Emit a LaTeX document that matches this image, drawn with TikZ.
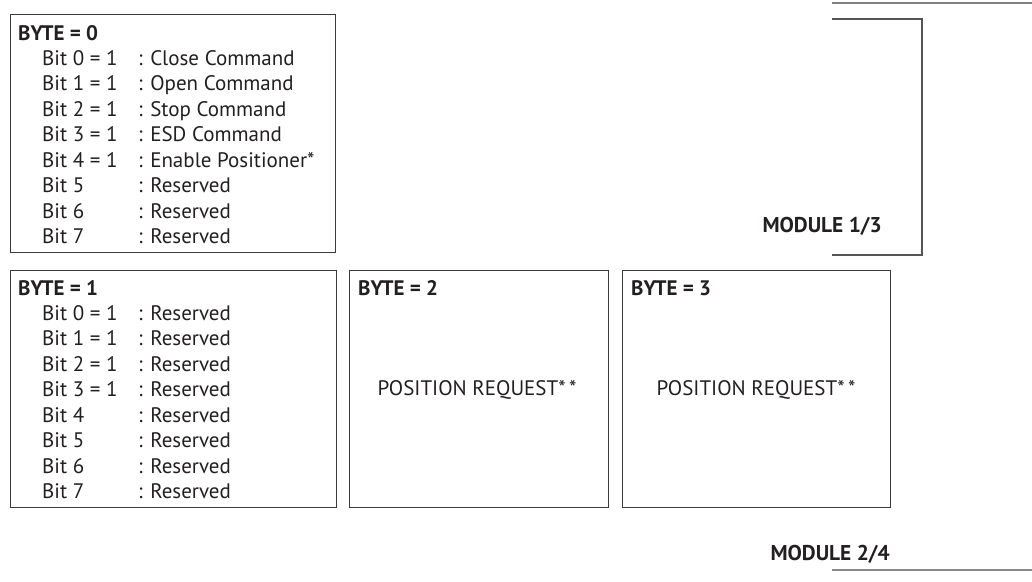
\documentclass[tikz,border=0pt]{standalone}
\usepackage{fontspec}
\setmainfont{PT Sans}
\definecolor{boxc}{HTML}{3A3A3A}
\definecolor{txtc}{HTML}{231F20}
\definecolor{brc}{HTML}{555555}
\definecolor{lnc}{HTML}{8A8A8A}
\begin{document}
\begin{tikzpicture}[x=1pt,y=-1pt,
  box/.style={draw=boxc, line width=1.3pt, anchor=north west, inner sep=0pt},
  txt/.style={anchor=base west, inner sep=0pt, text=txtc, font=\fontsize{21}{23}\selectfont},
  hd/.style={txt, font=\fontsize{21}{23}\selectfont\bfseries},
  modl/.style={anchor=base east, inner sep=0pt, text=txtc, font=\fontsize{21.4}{23}\selectfont\bfseries},
  ctr/.style={anchor=center, inner sep=0pt, text=txtc, font=\fontsize{21}{23}\selectfont}]
\useasboundingbox (0,0) rectangle (1032,581);
% boxes
\node[box, minimum width=325pt, minimum height=238pt] (b0) at (10,14) {};
\node[box, minimum width=326pt, minimum height=237pt] (b1) at (10,270) {};
\node[box, minimum width=259pt, minimum height=237pt] (b2) at (349,270) {};
\node[box, minimum width=268pt, minimum height=237pt] (b3) at (622,270) {};
% headers
\node[hd] (h0) at (18,40) {BYTE = 0};
\node[hd] (h1) at (18,295) {BYTE = 1};
\node[hd] (h2) at (358,295) {BYTE = 2};
\node[hd] (h3) at (631,295) {BYTE = 3};
% box 0 rows
\foreach \l/\r [count=\i from 0] in {Bit 0 = 1/Close Command, Bit 1 = 1/Open Command, Bit 2 = 1/Stop Command, Bit 3 = 1/ESD Command, Bit 4 = 1/Enable Positioner*, Bit 5/Reserved, Bit 6/Reserved, Bit 7/Reserved}{
  \node[txt] (a\i) at (42,{65+25.5*\i}) {\l};
  \node[txt] (ad\i) at (138,{65+25.5*\i}) {: \r};
}
% box 1 rows
\foreach \l [count=\i from 0] in {Bit 0 = 1, Bit 1 = 1, Bit 2 = 1, Bit 3 = 1, Bit 4, Bit 5, Bit 6, Bit 7}{
  \node[txt] (c\i) at (42,{320+25.5*\i}) {\l};
  \node[txt] (cd\i) at (138,{320+25.5*\i}) {: Reserved};
}
% position request
\node[ctr] (p2) at (477,390) {POSITION REQUEST*\,*};
\node[ctr] (p3) at (756,390) {POSITION REQUEST*\,*};
% module labels
\node[modl] (m1) at (882,232) {MODULE 1/3};
\node[modl] (m2) at (890,560) {MODULE 2/4};
% lines
\coordinate (t1) at (832,3); \coordinate (t2) at (1032,3);
\draw[draw=gray, line width=2pt] (t1) -- (t2);
\coordinate (k1) at (832,19); \coordinate (k2) at (922,19);
\coordinate (k3) at (922,255); \coordinate (k4) at (832,255);
\draw[draw=brc, line width=1.5pt] (k1) -- (k2) -- (k3) -- (k4);
\coordinate (u1) at (832,570); \coordinate (u2) at (1032,570);
\draw[draw=lnc, line width=1.5pt] (u1) -- (u2);
\end{tikzpicture}
\end{document}
